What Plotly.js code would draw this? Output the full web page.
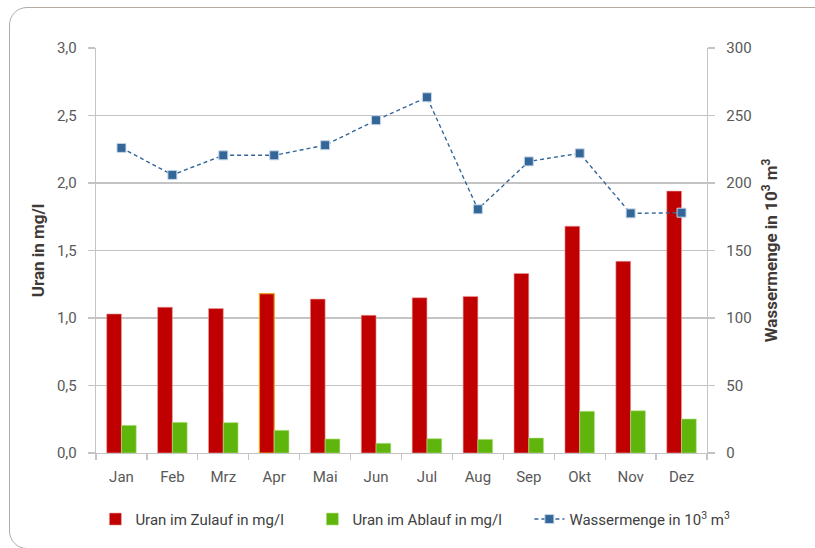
<!DOCTYPE html>
<html>
<head>
<meta charset="utf-8">
<script src="https://cdn.plot.ly/plotly-3.0.1.min.js"></script>
<style>
  html, body { margin: 0; padding: 0; background: #ffffff; }
  #wrap { position: relative; width: 815px; height: 548px; overflow: hidden; }
  #frame {
    position: absolute; left: 9px; top: 7px; width: 900px; height: 540px;
    border: 1.5px solid #b3aaa2; border-radius: 18px; pointer-events: none;
  }
  #chart { position: absolute; left: 0; top: 0; width: 815px; height: 548px; }
</style>
</head>
<body>
<div id="wrap">
  <div id="frame"></div>
  <div id="chart"></div>
</div>
<script>
// Monthly uranium concentrations (mg/l) and water volume (10^3 m^3)
const months = ["Jan", "Feb", "Mrz", "Apr", "Mai", "Jun", "Jul", "Aug", "Sep", "Okt", "Nov", "Dez"];
const uranZulauf = [1.03, 1.08, 1.07, 1.18, 1.14, 1.02, 1.15, 1.16, 1.33, 1.68, 1.42, 1.94];
const uranAblauf = [0.205, 0.227, 0.225, 0.168, 0.104, 0.072, 0.106, 0.101, 0.111, 0.309, 0.313, 0.252];
const wassermenge = [226, 206, 220.5, 220.5, 228, 246.5, 263.5, 180.5, 216, 222, 177.5, 178];

const leftTicks = [0, 0.5, 1, 1.5, 2, 2.5, 3];
const rightTicks = [0, 50, 100, 150, 200, 250, 300];

const FONT = 'Roboto, "Liberation Sans", sans-serif';
const GRID = '#c4c4c4';

const traces = [
  {
    type: 'bar', name: 'Uran im Zulauf in mg/l',
    x: months, y: uranZulauf,
    marker: {
      color: '#c00000',
      line: {
        color: months.map(m => m === 'Apr' ? '#f0a020' : '#e8a0a0'),
        width: months.map(m => m === 'Apr' ? 1.2 : 0.6)
      }
    },
    hoverinfo: 'x+y'
  },
  {
    type: 'bar', name: 'Uran im Ablauf in mg/l',
    x: months, y: uranAblauf,
    marker: { color: '#5fb50c', line: { color: '#b5e08a', width: 0.6 } },
    hoverinfo: 'x+y'
  },
  {
    type: 'scatter', mode: 'lines+markers', name: 'Wassermenge in 10<sup>3</sup> m<sup>3</sup>',
    x: months, y: wassermenge, yaxis: 'y2',
    line: { color: '#336699', width: 1.4, dash: '4px,3px' },
    marker: { symbol: 'square', size: 9, color: '#336699', line: { color: '#c8d6e6', width: 1 } },
    hoverinfo: 'x+y'
  }
];

const layout = {
  width: 815, height: 548,
  paper_bgcolor: 'rgba(0,0,0,0)', plot_bgcolor: 'rgba(0,0,0,0)',
  margin: { l: 96, r: 108, t: 48, b: 95 },
  separators: ',.',
  font: { family: FONT, size: 15, color: '#595959' },
  barmode: 'group', bargap: 0.42, bargroupgap: 0,
  showlegend: true,
  legend: {
    orientation: 'h', x: -0.001, xanchor: 'left', y: -0.123, yanchor: 'top',
    font: { family: FONT, size: 15, color: '#404040' },
    entrywidth: 172, entrywidthmode: 'pixels',
    traceorder: 'normal'
  },
  xaxis: {
    type: 'category', range: [-0.5, months.length - 0.5],
    showline: true, linecolor: GRID, linewidth: 1.3,
    ticks: 'outside', tickson: 'boundaries', ticklen: 6, tickcolor: GRID, tickwidth: 1.3,
    ticklabelstandoff: 10,
    showgrid: false, zeroline: false,
    tickfont: { family: FONT, size: 15, color: '#595959' }
  },
  yaxis: {
    range: [0, 3], tickvals: leftTicks, tickformat: '.1f',
    showline: true, linecolor: GRID, linewidth: 1.3,
    ticks: 'outside', ticklen: 7, tickcolor: GRID, tickwidth: 1.3,
    ticklabelstandoff: 8,
    showgrid: true, gridcolor: GRID, gridwidth: 1.3, zeroline: false,
    tickfont: { family: FONT, size: 15, color: '#595959' },
    title: { text: 'Uran in mg/l', standoff: 8, font: { family: FONT, size: 17, color: '#3f3a36', weight: 'bold' } }
  },
  yaxis2: {
    overlaying: 'y', side: 'right',
    range: [0, 300], tickvals: rightTicks,
    showline: true, linecolor: GRID, linewidth: 1.3,
    ticks: 'outside', ticklen: 7, tickcolor: GRID, tickwidth: 1.3,
    ticklabelstandoff: 8,
    showgrid: false, zeroline: false,
    tickfont: { family: FONT, size: 15, color: '#595959' },
    title: { text: 'Wassermenge in 10<sup>3</sup> m<sup>3</sup>', standoff: 14, font: { family: FONT, size: 17, color: '#3f3a36', weight: 'bold' } }
  }
};

Plotly.newPlot('chart', traces, layout, { displayModeBar: false, staticPlot: true });
</script>
</body>
</html>
